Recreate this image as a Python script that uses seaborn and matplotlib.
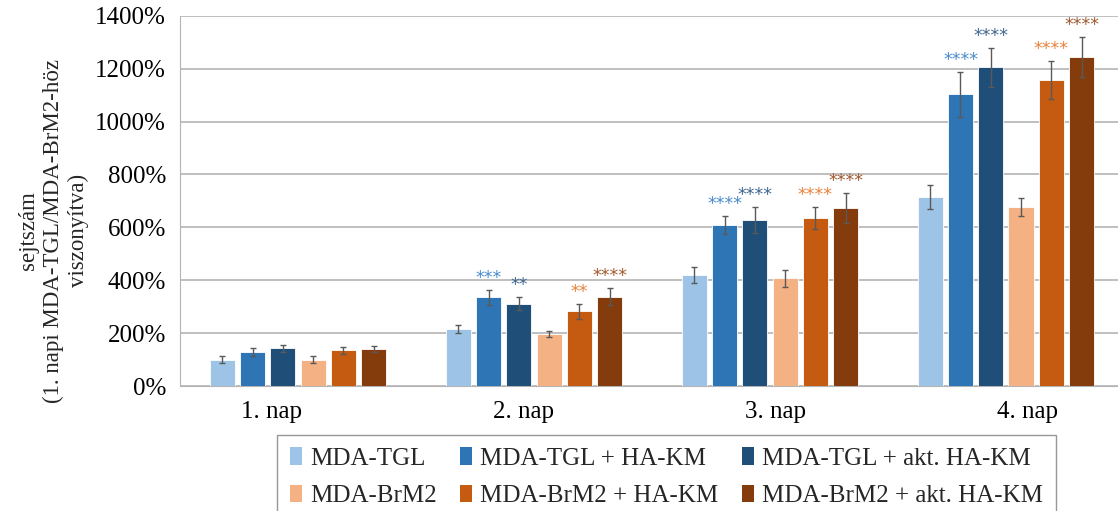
import matplotlib
matplotlib.use("Agg")
import matplotlib.pyplot as plt
import matplotlib.transforms as mtrans
import seaborn as sns
import pandas as pd
from matplotlib.patches import Patch

days = ["1. nap", "2. nap", "3. nap", "4. nap"]
groups = ["MDA-TGL", "MDA-TGL + HA-KM", "MDA-TGL + akt. HA-KM",
          "MDA-BrM2", "MDA-BrM2 + HA-KM", "MDA-BrM2 + akt. HA-KM"]
values = {
    "MDA-TGL":               [100, 215, 420, 715],
    "MDA-TGL + HA-KM":       [130, 336, 609, 1104],
    "MDA-TGL + akt. HA-KM":  [142, 312, 628, 1206],
    "MDA-BrM2":              [100, 197, 408, 677],
    "MDA-BrM2 + HA-KM":      [135, 282, 635, 1157],
    "MDA-BrM2 + akt. HA-KM": [140, 338, 673, 1244],
}
errors = {
    "MDA-TGL":               [12, 15, 30, 45],
    "MDA-TGL + HA-KM":       [15, 28, 33, 85],
    "MDA-TGL + akt. HA-KM":  [13, 26, 48, 74],
    "MDA-BrM2":              [12, 11, 32, 34],
    "MDA-BrM2 + HA-KM":      [13, 28, 42, 73],
    "MDA-BrM2 + akt. HA-KM": [12, 32, 56, 77],
}
stars = {
    "MDA-TGL":               ["", "", "", ""],
    "MDA-TGL + HA-KM":       ["", "***", "****", "****"],
    "MDA-TGL + akt. HA-KM":  ["", "**", "****", "****"],
    "MDA-BrM2":              ["", "", "", ""],
    "MDA-BrM2 + HA-KM":      ["", "**", "****", "****"],
    "MDA-BrM2 + akt. HA-KM": ["", "****", "****", "****"],
}
bar_colors = ["#9DC3E6", "#2E75B6", "#1F4E79", "#F4B183", "#C55A11", "#843C0C"]
star_colors = ["#9DC3E6", "#4A8BCB", "#3E6690", "#F4B183", "#E8823E", "#A05A30"]
yticks = [0, 200, 400, 600, 800, 1000, 1200, 1400]

rows = []
for g in groups:
    for d, v in zip(days, values[g]):
        rows.append({"day": d, "group": g, "value": v})
df = pd.DataFrame(rows)

sns.set_style("white")
plt.rcParams["font.family"] = ["Liberation Serif", "DejaVu Serif"]

fig = plt.figure(figsize=(11.18, 5.11), dpi=100)
ax = fig.add_axes([0.161, 0.2446, 0.839, 0.7244])

sns.barplot(data=df, x="day", y="value", hue="group", hue_order=groups,
            order=days, palette=bar_colors, saturation=1, width=0.77, gap=0.17,
            errorbar=None, legend=False, ax=ax, edgecolor="#FFFFFF",
            linewidth=0.6, zorder=3)

patches = ax.patches
for gi, g in enumerate(groups):
    for di in range(len(days)):
        p = patches[gi * len(days) + di]
        xc = p.get_x() + p.get_width() / 2
        v = values[g][di]
        e = errors[g][di]
        ax.errorbar(xc, v, yerr=e, fmt="none", ecolor="#595959",
                    elinewidth=1.0, capsize=2.5, capthick=1.0, zorder=4)
        s = stars[g][di]
        if s:
            ax.annotate(s, (xc, v + e), xytext=(0, 2), textcoords="offset points",
                        ha="center", va="bottom", color=star_colors[gi],
                        fontsize=12.5, family="DejaVu Sans", zorder=5)

ax.set_ylim(0, 1400)
ax.set_xlim(-0.5, 3.475)
ax.set_yticks(yticks)
ax.set_yticklabels([f"{t}%" for t in yticks])
ax.yaxis.grid(True, color="#B4B4B4", linewidth=1.2, zorder=0)
ax.set_axisbelow(True)
ax.tick_params(axis="y", length=0, labelsize=18, colors="black", pad=10)
ax.tick_params(axis="x", length=0, labelsize=18, colors="black", pad=11)
for i, lbl in enumerate(ax.get_xticklabels()):
    dx = (-26 + 16 * i) / 100.0
    lbl.set_transform(lbl.get_transform() +
                      mtrans.ScaledTranslation(dx, 0, fig.dpi_scale_trans))
for sp in ["top", "right"]:
    ax.spines[sp].set_visible(False)
ax.spines["left"].set_color("#B4B4B4")
ax.spines["bottom"].set_color("#B4B4B4")
ax.set_xlabel("")
ax.set_ylabel("sejtszám\n(1. napi MDA-TGL/MDA-BrM2-höz\nviszonyítva)",
              fontsize=16.5, linespacing=1.25)
ax.yaxis.set_label_coords(-0.097, 0.42)

handles = [Patch(facecolor=c, edgecolor="none") for c in bar_colors]
order = [0, 3, 1, 4, 2, 5]
leg = fig.legend([handles[i] for i in order], [groups[i] for i in order],
                 loc="upper left", bbox_to_anchor=(0.248, 0.149), ncol=3,
                 borderaxespad=0, fontsize=18, frameon=True, fancybox=False,
                 edgecolor="#7F7F7F", handlelength=0.48, handleheight=0.7,
                 handletextpad=0.32, columnspacing=0.95, labelspacing=0.6,
                 borderpad=0.5)
leg.get_frame().set_linewidth(1.0)

fig.savefig("out.png", dpi=100)
